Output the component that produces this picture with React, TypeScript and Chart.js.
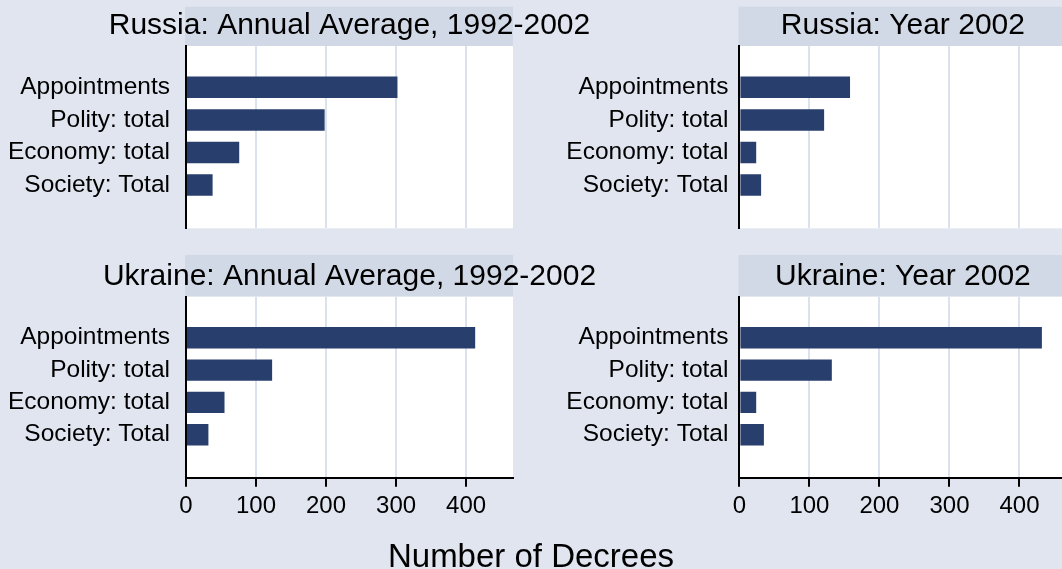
import React, { useEffect, useRef } from 'react';
import { Chart, registerables } from 'chart.js';

Chart.register(...registerables);

// ---------- data ----------
const categories = ['Appointments', 'Polity: total', 'Economy: total', 'Society: Total'];
const russiaAverage = [302, 198, 76, 38];
const russia2002 = [158, 121, 24, 31];
const ukraineAverage = [413, 123, 55, 32];
const ukraine2002 = [432, 132, 24, 35];
const xTickValues = [0, 100, 200, 300, 400];
const panelTitles = [
  'Russia: Annual Average, 1992-2002',
  'Russia: Year 2002',
  'Ukraine: Annual Average, 1992-2002',
  'Ukraine: Year 2002',
];
const axisTitle = 'Number of Decrees';

// ---------- style ----------
const FONT = "'Liberation Sans', Arial, Helvetica, sans-serif";
const BG = '#E0E5F0';
const STRIP = '#D2D9E6';
const GRID = '#DCE2ED';
const BAR = '#283F6E';
const CW = 1070;
const CH = 569;
const X_MAX = 467;
const PLOT_W = 327;

type Panel = {
  title: string;
  values: number[];
  plotLeft: number;
  plotTop: number;
  plotBottom: number;
  stripTop: number;
  titleBaseline: number;
  showAxis: boolean;
  labelPad: number;
  axisTitle?: string;
};

const panels: Panel[] = [
  { title: panelTitles[0], values: russiaAverage, plotLeft: 186, plotTop: 46, plotBottom: 228.3, stripTop: 6.7, titleBaseline: 34, showAxis: false, labelPad: 16 },
  { title: panelTitles[1], values: russia2002, plotLeft: 739.4, plotTop: 46, plotBottom: 228.3, stripTop: 6.7, titleBaseline: 34, showAxis: false, labelPad: 11 },
  { title: panelTitles[2], values: ukraineAverage, plotLeft: 186, plotTop: 296.7, plotBottom: 477.7, stripTop: 255, titleBaseline: 284.5, showAxis: true, labelPad: 16, axisTitle },
  { title: panelTitles[3], values: ukraine2002, plotLeft: 739.4, plotTop: 296.7, plotBottom: 477.7, stripTop: 255, titleBaseline: 284.5, showAxis: true, labelPad: 11 },
];

const decorPlugin = {
  id: 'panelDecor',
  afterDraw(chart: any, _args: any, opts: any) {
    const { ctx, chartArea: a } = chart;
    ctx.save();
    // backgrounds painted behind everything already drawn
    ctx.globalAlpha = 1;
    ctx.globalCompositeOperation = 'destination-over';
    ctx.fillStyle = '#ffffff';
    ctx.fillRect(a.left, a.top, a.right - a.left, a.bottom - a.top);
    ctx.fillStyle = STRIP;
    ctx.fillRect(a.left - 1, opts.stripTop, a.right - a.left + 1, a.top - opts.stripTop);
    ctx.globalCompositeOperation = 'source-over';
    ctx.fillStyle = '#000';
    ctx.textAlign = 'center';
    ctx.textBaseline = 'alphabetic';
    ctx.font = `30px ${FONT}`;
    ctx.fillText(opts.title, (a.left + a.right) / 2, opts.titleBaseline);
    if (opts.axisTitle) {
      ctx.font = `33px ${FONT}`;
      ctx.fillText(opts.axisTitle, 531, 566.5);
    }
    ctx.restore();
  },
};

function PanelChart({ p }: { p: Panel }) {
  const ref = useRef<HTMLCanvasElement | null>(null);
  useEffect(() => {
    if (!ref.current) return;
    const xHeight = p.showAxis ? 40 : 0;
    const yWidth = 180;
    const chart = new Chart(ref.current, {
      type: 'bar',
      data: {
        datasets: [
          {
            data: p.values.map((v, i) => ({ x: v, y: i })),
            backgroundColor: BAR,
            borderWidth: 0,
            categoryPercentage: 1,
            barPercentage: 0.66,
          } as any,
        ],
      },
      plugins: [decorPlugin as any],
      options: {
        indexAxis: 'y',
        responsive: false,
        animation: false,
        devicePixelRatio: 1,
        layout: {
          padding: {
            left: p.plotLeft - yWidth,
            top: p.plotTop,
            right: CW - (p.plotLeft + PLOT_W),
            bottom: CH - p.plotBottom - xHeight,
          },
        },
        scales: {
          x: {
            type: 'linear',
            min: 0,
            max: X_MAX,
            offset: false,
            afterBuildTicks: (s: any) => {
              s.ticks = xTickValues.map((v) => ({ value: v }));
            },
            afterFit: (s: any) => {
              s.height = xHeight;
            },
            grid: {
              color: (c: any) => (c.tick && c.tick.value === 0 ? 'rgba(0,0,0,0)' : GRID),
              lineWidth: 2,
              drawTicks: p.showAxis,
              tickLength: 9,
              tickColor: '#000',
              tickWidth: 2,
            },
            border: { display: p.showAxis, color: '#000', width: 2 },
            ticks: {
              display: p.showAxis,
              padding: 5,
              color: '#000',
              autoSkip: false,
              maxRotation: 0,
              font: { family: FONT, size: 24 },
            },
          },
          y: {
            type: 'linear',
            reverse: true,
            offset: false,
            min: -1.27,
            max: 4.33,
            afterBuildTicks: (s: any) => {
              s.ticks = categories.map((_, i) => ({ value: i }));
            },
            afterFit: (s: any) => {
              s.width = yWidth;
            },
            grid: { display: false, drawTicks: false, offset: false },
            border: { display: true, color: '#000', width: 2 },
            ticks: {
              padding: p.labelPad,
              color: '#000',
              autoSkip: false,
              font: { family: FONT, size: 24.5, lineHeight: 1 },
              callback: (v: any) => categories[v as number] ?? '',
            },
          },
        },
        plugins: {
          legend: { display: false },
          tooltip: { enabled: false },
          title: { display: false },
          panelDecor: {
            title: p.title,
            stripTop: p.stripTop,
            titleBaseline: p.titleBaseline,
            axisTitle: p.axisTitle,
          },
        } as any,
      },
    });
    return () => chart.destroy();
  }, [p]);
  return (
    <canvas
      ref={ref}
      width={CW}
      height={CH}
      style={{ position: 'absolute', left: 0, top: 0, width: CW, height: CH }}
    />
  );
}

export default function App() {
  return (
    <div
      style={{
        position: 'fixed',
        left: 0,
        top: 0,
        width: 1062,
        height: 569,
        overflow: 'hidden',
        background: BG,
      }}
    >
      {panels.map((p, i) => (
        <PanelChart key={i} p={p} />
      ))}
    </div>
  );
}
